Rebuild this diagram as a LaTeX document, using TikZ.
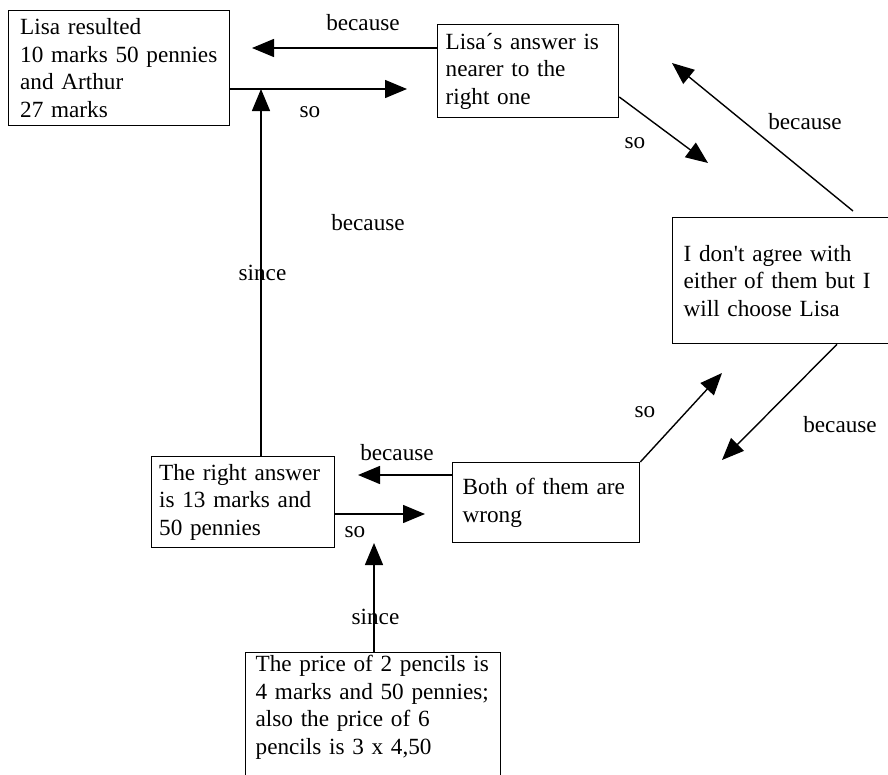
\documentclass[tikz,border=0pt]{standalone}
\usepackage{fontspec}
\setmainfont{Liberation Serif}[Ligatures=TeXOff]
\usetikzlibrary{arrows.meta}
\begin{document}
\begin{tikzpicture}[x=1pt,y=-1pt,
  every node/.style={font=\fontsize{23.2pt}{27.5pt}\selectfont},
  box/.style={draw, line width=1.3pt, align=left, anchor=north west, inner ysep=3pt},
  arr/.style={line width=1.4pt, -{Triangle[length=22pt,width=18pt]}},
  lbl/.style={inner sep=0pt}]
\fill[white] (0,0) rectangle (888,774);
\useasboundingbox (0,0) rectangle (888,774);

% boxes
\node[box, text width=198pt, inner xsep=11.5pt, minimum height=115pt] (b1) at (8,10)
  {\mbox{Lisa resulted}\\\mbox{10 marks 50 pennies}\\\mbox{and Arthur}\\\mbox{27 marks}};
\node[box, text width=165pt, inner xsep=8pt, minimum height=93pt] (b2) at (437,24)
  {\mbox{Lisa´s answer is}\\\mbox{nearer to the}\\\mbox{right one}};
\node[box, text width=215pt, inner xsep=11pt, minimum height=126pt] (b3) at (672,217)
  {\mbox{I don't agree with}\\\mbox{either of them but I}\\\mbox{will choose Lisa}};
\node[box, text width=167pt, inner xsep=10pt, minimum height=80pt] (b4) at (452,462)
  {\mbox{Both of them are}\\\mbox{wrong}};
\node[box, text width=168pt, inner xsep=7.5pt, minimum height=91pt] (b5) at (151,456)
  {\mbox{The right answer}\\\mbox{is 13 marks and}\\\mbox{50 pennies}};
\node[box, text width=235pt, inner xsep=10pt] (b6) at (245,652)
  {\mbox{The price of 2 pencils is}\\\mbox{4 marks and 50 pennies;}\\\mbox{also the price of 6}\\\mbox{pencils is 3 x 4,50}\\ \mbox{}};

% coordinates for free arrow ends
\coordinate (t1) at (252,48);
\coordinate (t2) at (407,89);
\coordinate (t3) at (261,89);
\coordinate (s4) at (620,97);
\coordinate (t4) at (708,163);
\coordinate (s5) at (853,211);
\coordinate (t5) at (672,63);
\coordinate (s6) at (837,345);
\coordinate (t6) at (722,460);
\coordinate (t7) at (722,373);
\coordinate (t8) at (358,475);
\coordinate (t9) at (425,514);
\coordinate (t10) at (374,543);

% connectors
\draw[arr] (b2.west |- t1) -- (t1);
\draw[arr] (b1.east |- t2) -- (t2);
\draw[arr] (t3 |- b5.north) -- (t3);
\draw[arr] (b2.east |- s4) -- (t4);
\draw[arr] (b3.north -| s5) ++(0,-6) -- (t5);
\draw[arr] (b3.south -| s6) -- (t6);
\draw[arr] (b4.north east) -- (t7);
\draw[arr] (b4.west |- t8) -- (t8);
\draw[arr] (b5.east |- t9) -- (t9);
\draw[arr] (t10 |- b6.north) -- (t10);

% labels
\node[lbl] (l1) at (363,23) {because};
\node[lbl] (l2) at (310,112) {so};
\node[lbl] (l3) at (262.5,273) {since};
\node[lbl] (l4) at (635,143) {so};
\node[lbl] (l5) at (805,122) {because};
\node[lbl] (l6) at (368,223) {because};
\node[lbl] (l7) at (840,425) {because};
\node[lbl] (l8) at (645,412) {so};
\node[lbl] (l9) at (397,453) {because};
\node[lbl] (l10) at (355,532) {so};
\node[lbl] (l11) at (375.5,617) {since};
\end{tikzpicture}
\end{document}
